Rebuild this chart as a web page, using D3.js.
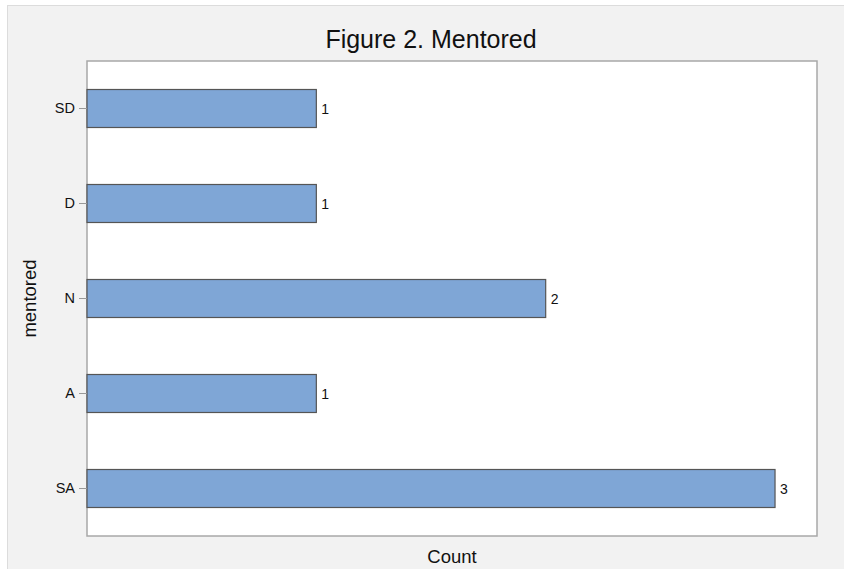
<!DOCTYPE html>
<html><head><meta charset="utf-8">
<script src="https://cdn.jsdelivr.net/npm/d3@7"></script>
<style>body{margin:0;background:#fff;font-family:"Liberation Sans",Arial,sans-serif;}</style>
</head><body>
<svg id="c" width="844" height="569"></svg>
<script>
const categories = ["SD","D","N","A","SA"];
const counts = [1,1,2,1,3];
const title = "Figure 2. Mentored";
const xLabel = "Count";
const yLabel = "mentored";

const svg = d3.select("#c");
svg.append("rect").attr("x",7.5).attr("y",5.5).attr("width",850).attr("height",580)
  .attr("fill","#f2f2f2").attr("stroke","#dcdcdc");

const m = {l:87, t:61, r:817, b:536};
const x = d3.scaleLinear().domain([0,3.183]).range([m.l,m.r]);
const y = d3.scaleBand().domain(categories).range([m.t,m.b]).paddingInner(0.6).paddingOuter(0.3);

svg.append("rect").attr("x",m.l).attr("y",m.t).attr("width",m.r-m.l).attr("height",m.b-m.t)
  .attr("fill","#fff").attr("stroke","#a8a8a8").attr("stroke-width",1.5);

svg.selectAll("rect.bar").data(categories).enter().append("rect").attr("class","bar")
  .attr("x",x(0)).attr("y",d=>y(d)).attr("width",(d,i)=>x(counts[i])-x(0)).attr("height",y.bandwidth())
  .attr("fill","#7fa6d6").attr("stroke","#555").attr("stroke-width",1.2);

svg.selectAll("text.val").data(categories).enter().append("text").attr("class","val")
  .attr("x",(d,i)=>x(counts[i])+5).attr("y",d=>y(d)+y.bandwidth()/2).attr("dy","0.36em")
  .attr("font-size",14).attr("fill","#111").text((d,i)=>counts[i]);

const ya = svg.append("g").attr("transform",`translate(${m.l},0)`)
  .call(d3.axisLeft(y).tickSize(8).tickPadding(4));
ya.select(".domain").remove();
ya.selectAll(".tick line").attr("stroke","#999");
ya.selectAll(".tick text").attr("font-size",14.5).attr("fill","#111").attr("font-family","Liberation Sans, Arial, sans-serif");

svg.append("text").attr("x",431).attr("y",48).attr("text-anchor","middle")
  .attr("font-size",25).attr("fill","#111").text(title);
svg.append("text").attr("x",(m.l+m.r)/2).attr("y",563).attr("text-anchor","middle")
  .attr("font-size",18.5).attr("fill","#111").text(xLabel);
svg.append("text").attr("transform",`translate(36,${(m.t+m.b)/2}) rotate(-90)`).attr("text-anchor","middle")
  .attr("font-size",18.5).attr("fill","#111").text(yLabel);
</script>
</body></html>
